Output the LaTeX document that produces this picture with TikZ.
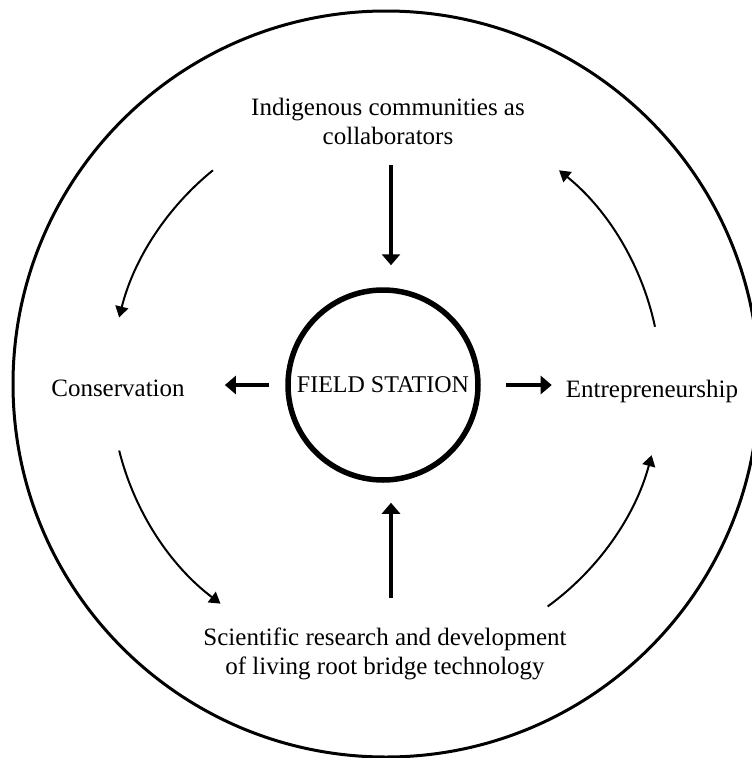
\documentclass[tikz,border=0pt]{standalone}
\usepackage{fontspec}
\setmainfont{Liberation Serif}
\usetikzlibrary{arrows.meta}

\begin{document}
\begin{tikzpicture}[
        x=1pt, y=-1pt,
        label/.style={
            inner sep=0pt,
            align=center,
            font=\fontsize{25}{29}\selectfont
        },
        station/.style={
            circle,
            draw,
            line width=5.5pt,
            minimum size=190pt,
            inner sep=0pt,
            font=\fontsize{24}{29}\selectfont
        },
        rim/.style={
            line width=3pt
        },
        push/.style={
            line width=3.5pt,
            -{Triangle[length=11pt,width=18pt]}
        },
        flow/.style={
            line width=2pt,
            -{Triangle[length=11pt,width=13pt]}
        }
    ]

    \useasboundingbox (0,0) rectangle (752,758);

    % ---------------------------------------------------------
    % Outer ring and centre
    % ---------------------------------------------------------
    \coordinate (hub) at (386,384);
    \draw[rim] (hub) circle[radius=373];

    \node[station] (station) at (383,385) {FIELD STATION};
    \coordinate (axis) at ([xshift=8pt]station.center);

    % ---------------------------------------------------------
    % Labels
    % ---------------------------------------------------------
    \node[label] (indig) at (388,121) {Indigenous communities as\\collaborators};
    \node[label] (cons) at (118,388) {Conservation};
    \node[label] (entre) at (652,391) {Entrepreneurship};
    \node[label] (sci) at (385,654) {Scientific research and development\\of living root bridge technology};

    % ---------------------------------------------------------
    % Straight arrows to and from the station
    % ---------------------------------------------------------
    \draw[push, shorten <=21pt, shorten >=22pt]
        (axis |- indig.south) -- (axis |- station.north);
    \draw[push, shorten <=30pt, shorten >=20pt]
        (axis |- sci.north) -- (axis |- station.south);
    \draw[push, shorten <=16pt, shorten >=40pt]
        (station.west) -- (station.west -| cons.east);
    \draw[push, shorten <=25pt, shorten >=14pt]
        (station.east) -- (station.east -| entre.west);

    % ---------------------------------------------------------
    % Curved arrows round the cycle
    % ---------------------------------------------------------
    \draw[flow] (hub) ++(-129:275) arc[start angle=-129, end angle=-166, radius=275];
    \draw[flow] (hub) ++(166:275) arc[start angle=166, end angle=127, radius=275];
    \draw[flow] (hub) ++(54:275) arc[start angle=54, end angle=15, radius=275];
    \draw[flow] (hub) ++(-12:275) arc[start angle=-12, end angle=-51, radius=275];

\end{tikzpicture}
\end{document}
